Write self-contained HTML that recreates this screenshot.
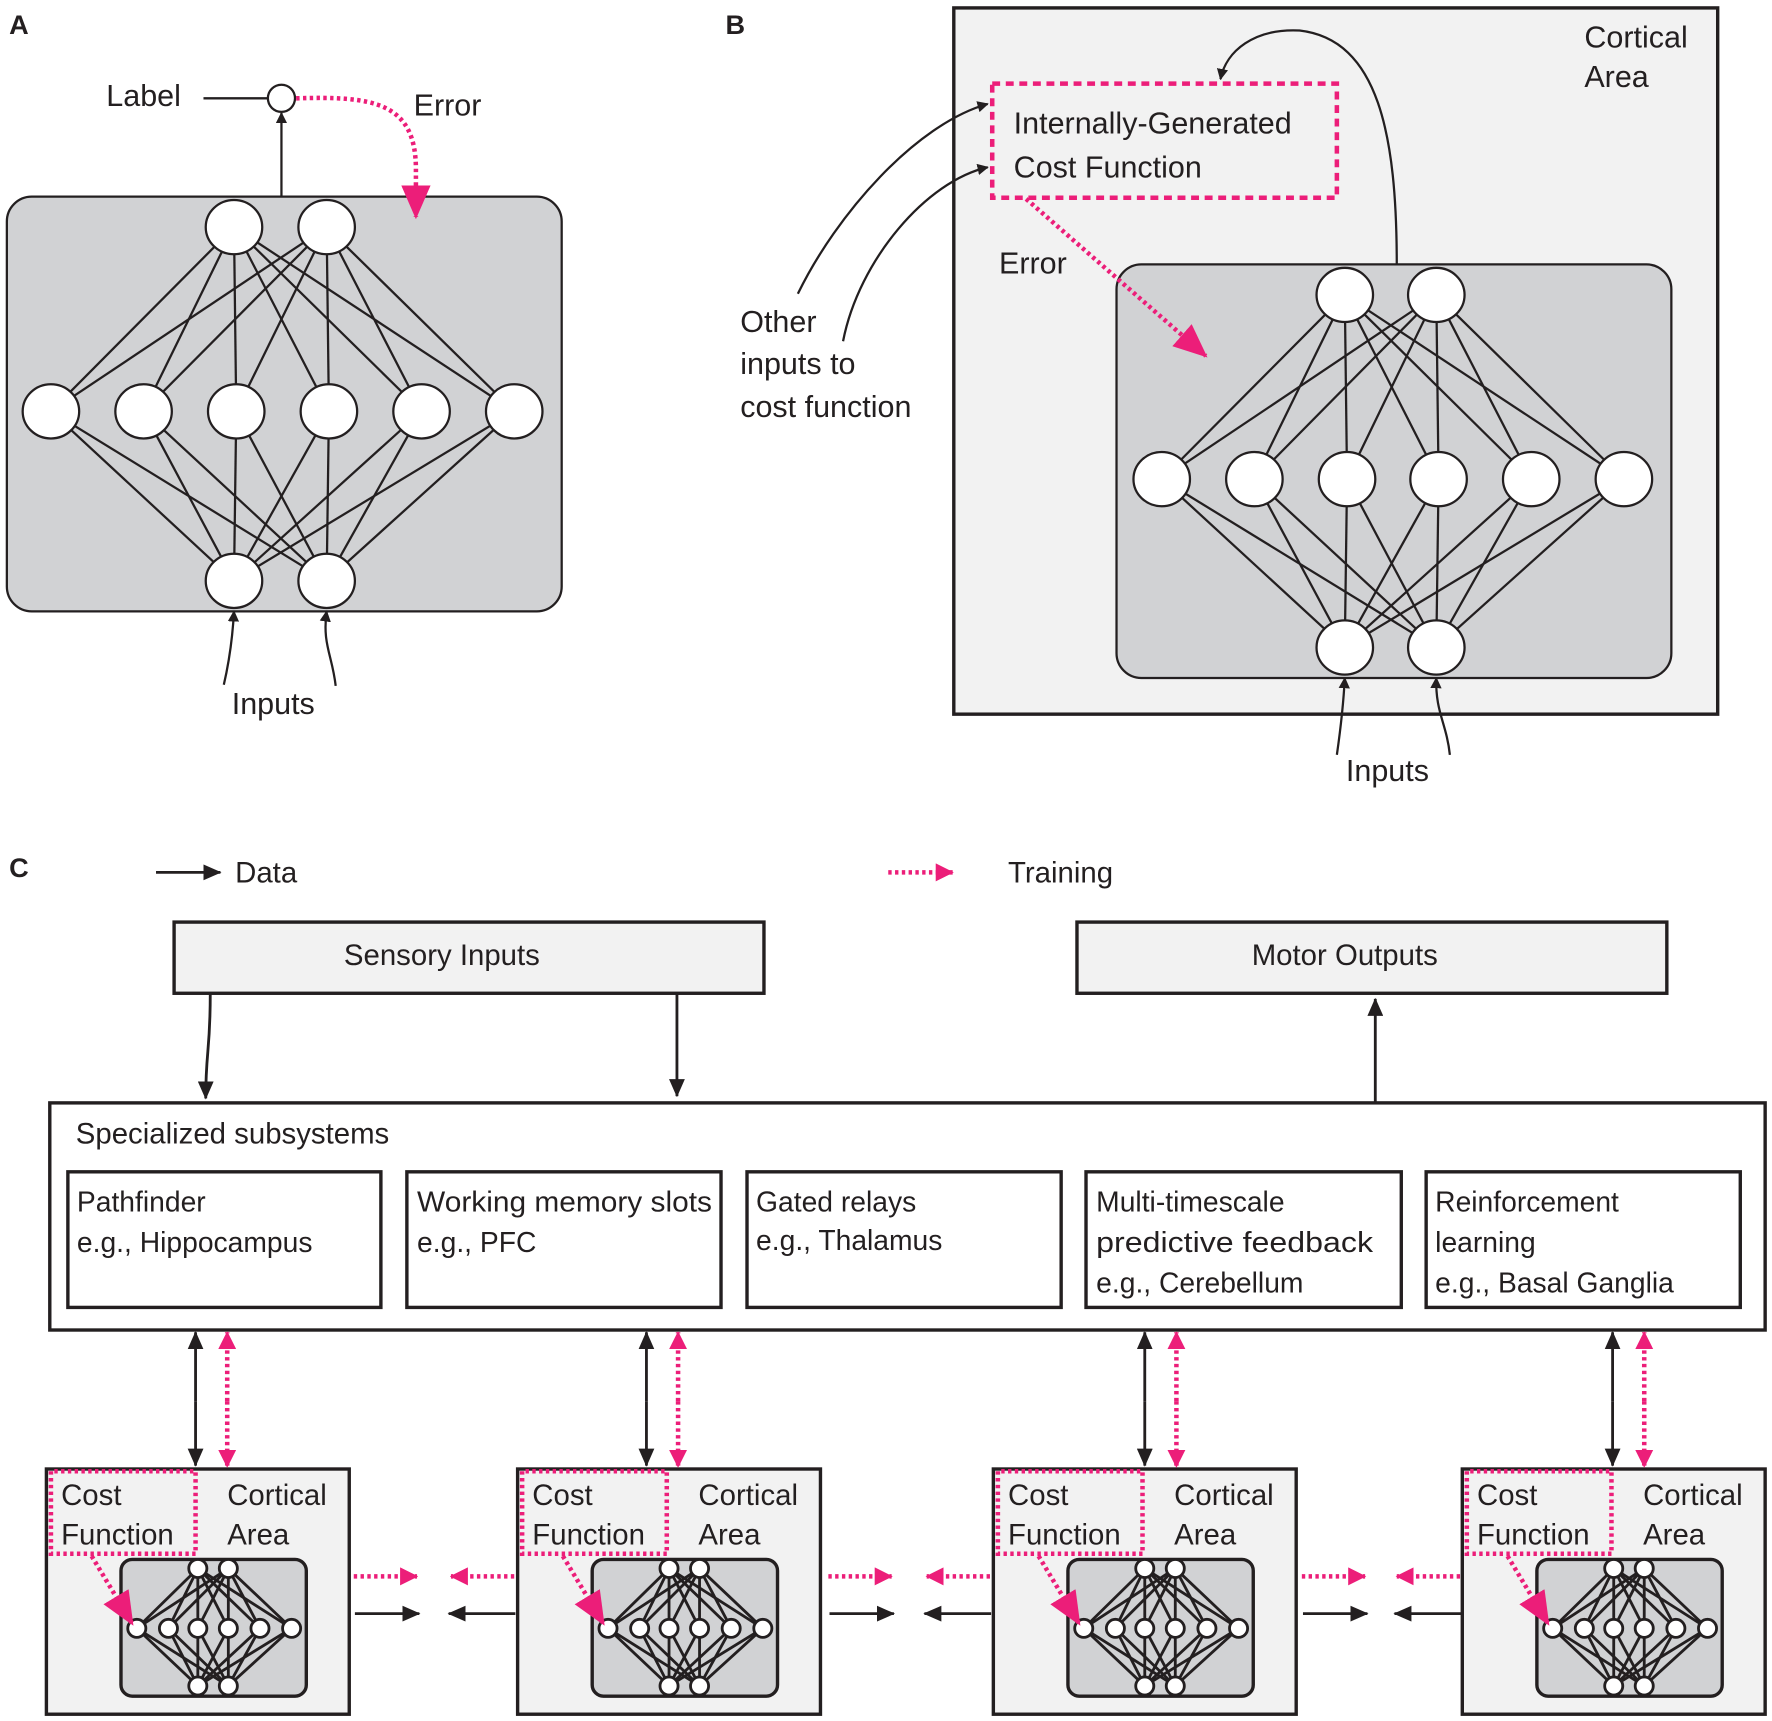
<!DOCTYPE html>
<html><head><meta charset="utf-8"><style>
html,body{margin:0;padding:0;background:#fff}
svg{display:block}
text{font-family:"Liberation Sans",sans-serif;fill:#231f20}
</style></head><body>
<svg id="s" width="1772" height="1721" viewBox="0 0 1568 1523" xmlns="http://www.w3.org/2000/svg">
<defs>
<marker id="ab" markerWidth="10" markerHeight="10" refX="9" refY="5" orient="auto" markerUnits="userSpaceOnUse"><path d="M0,0 L10,5 L0,10 Z" fill="#231f20"/></marker>
<marker id="abL" markerWidth="16" markerHeight="14" refX="15" refY="7" orient="auto" markerUnits="userSpaceOnUse"><path d="M0,0 L16,7 L0,14 Z" fill="#231f20"/></marker>
<marker id="ap" markerWidth="30" markerHeight="26" refX="28" refY="13" orient="auto" markerUnits="userSpaceOnUse"><path d="M0,0 L30,13 L0,26 Z" fill="#ec1e79"/></marker>
<marker id="apS" markerWidth="16" markerHeight="16" refX="15" refY="8" orient="auto" markerUnits="userSpaceOnUse"><path d="M0,0 L16,8 L0,16 Z" fill="#ec1e79"/></marker>
</defs>
<!-- Panel A -->
<text x="8" y="30" font-size="24" font-weight="bold">A</text>
<rect x="6" y="174" width="491" height="367" rx="22" fill="#d1d2d4" stroke="#231f20" stroke-width="2"/>
<g id="netA"></g>
<text x="94" y="94" font-size="27">Label</text>
<line x1="180" y1="87" x2="237" y2="87" stroke="#231f20" stroke-width="2"/>
<circle cx="249" cy="87" r="12" fill="#fff" stroke="#231f20" stroke-width="2"/>
<line x1="249" y1="174" x2="249" y2="100" stroke="#231f20" stroke-width="2" marker-end="url(#ab)"/>
<path d="M262,87 C330,85 368,90 368,150 L368,192" fill="none" stroke="#ec1e79" stroke-width="4" stroke-dasharray="3,3" marker-end="url(#ap)"/>
<text x="366" y="102" font-size="27">Error</text>
<path d="M198,606 C204,580 206,560 207,541" fill="none" stroke="#231f20" stroke-width="2" marker-end="url(#ab)"/>
<path d="M297,607 C294,580 285,570 289,541" fill="none" stroke="#231f20" stroke-width="2" marker-end="url(#ab)"/>
<text x="205" y="632" font-size="27">Inputs</text>
<!-- Panel B -->
<text x="642" y="30" font-size="24" font-weight="bold">B</text>
<rect x="844" y="7" width="676" height="625" fill="#f2f2f2" stroke="#231f20" stroke-width="3"/>
<text x="1402" y="42" font-size="27">Cortical</text>
<text x="1402" y="77" font-size="27">Area</text>
<rect x="878" y="74" width="305" height="101" fill="none" stroke="#ec1e79" stroke-width="4" stroke-dasharray="7,5"/>
<text x="897" y="118" font-size="27">Internally-Generated</text>
<text x="897" y="157" font-size="27">Cost Function</text>
<rect x="988" y="234" width="491" height="366" rx="22" fill="#d1d2d4" stroke="#231f20" stroke-width="2"/>
<g id="netB"></g>
<path d="M1236,234 C1236,120 1220,35 1150,27 C1110,25 1085,45 1080,70" fill="none" stroke="#231f20" stroke-width="2" marker-end="url(#ab)"/>
<text x="884" y="242" font-size="27">Error</text>
<line x1="908" y1="176" x2="1067" y2="315" stroke="#ec1e79" stroke-width="4" stroke-dasharray="3,3" marker-end="url(#ap)"/>
<path d="M706,260 C740,190 810,110 874,92" fill="none" stroke="#231f20" stroke-width="2" marker-end="url(#ab)"/>
<path d="M746,302 C760,230 820,160 874,148" fill="none" stroke="#231f20" stroke-width="2" marker-end="url(#ab)"/>
<text x="655" y="294" font-size="27">Other</text>
<text x="655" y="331" font-size="27">inputs to</text>
<text x="655" y="369" font-size="27">cost function</text>
<path d="M1183,668 C1187,640 1189,620 1190,600" fill="none" stroke="#231f20" stroke-width="2" marker-end="url(#ab)"/>
<path d="M1283,668 C1280,640 1270,630 1271,600" fill="none" stroke="#231f20" stroke-width="2" marker-end="url(#ab)"/>
<text x="1191" y="691" font-size="27">Inputs</text>
<!-- Panel C -->
<text x="8" y="776" font-size="24" font-weight="bold">C</text>
<line x1="138" y1="772" x2="195" y2="772" stroke="#231f20" stroke-width="2.5" marker-end="url(#abL)"/>
<text x="208" y="781" font-size="26">Data</text>
<line x1="786" y1="772" x2="843" y2="772" stroke="#ec1e79" stroke-width="4" stroke-dasharray="3,3" marker-end="url(#apS)"/>
<text x="892" y="781" font-size="26">Training</text>
<rect x="154" y="816" width="522" height="63" fill="#f2f2f2" stroke="#231f20" stroke-width="3"/>
<text x="391" y="854" font-size="26" text-anchor="middle">Sensory Inputs</text>
<rect x="953" y="816" width="522" height="63" fill="#f2f2f2" stroke="#231f20" stroke-width="3"/>
<text x="1190" y="854" font-size="26" text-anchor="middle">Motor Outputs</text>
<path d="M186,880 C186,930 182,930 182,972" fill="none" stroke="#231f20" stroke-width="2.5" marker-end="url(#abL)"/>
<line x1="599" y1="880" x2="599" y2="970" stroke="#231f20" stroke-width="2.5" marker-end="url(#abL)"/>
<line x1="1217" y1="975" x2="1217" y2="884" stroke="#231f20" stroke-width="2.5" marker-end="url(#abL)"/>
<rect x="44" y="976" width="1518" height="201" fill="#fff" stroke="#231f20" stroke-width="3"/>
<text x="67" y="1012" font-size="26">Specialized subsystems</text>
<rect x="60" y="1037" width="277" height="120" fill="#fff" stroke="#231f20" stroke-width="3"/>
<rect x="360" y="1037" width="278" height="120" fill="#fff" stroke="#231f20" stroke-width="3"/>
<rect x="661" y="1037" width="278" height="120" fill="#fff" stroke="#231f20" stroke-width="3"/>
<rect x="961" y="1037" width="279" height="120" fill="#fff" stroke="#231f20" stroke-width="3"/>
<rect x="1262" y="1037" width="278" height="120" fill="#fff" stroke="#231f20" stroke-width="3"/>
<g font-size="25">
<text x="68" y="1072">Pathfinder</text><text x="68" y="1108">e.g., Hippocampus</text>
<text x="369" y="1072" textLength="261" lengthAdjust="spacingAndGlyphs">Working memory slots</text><text x="369" y="1108">e.g., PFC</text>
<text x="669" y="1072">Gated relays</text><text x="669" y="1106">e.g., Thalamus</text>
<text x="970" y="1072">Multi-timescale</text><text x="970" y="1108" textLength="245" lengthAdjust="spacingAndGlyphs">predictive feedback</text><text x="970" y="1144">e.g., Cerebellum</text>
<text x="1270" y="1072">Reinforcement</text><text x="1270" y="1108">learning</text><text x="1270" y="1144">e.g., Basal Ganglia</text>
</g>
<g id="bot"></g>
</svg>
<script>
var NS="http://www.w3.org/2000/svg";
function el(p,t,a){var e=document.createElementNS(NS,t);for(var k in a)e.setAttribute(k,a[k]);p.appendChild(e);return e;}
function net(p,top,mid,bot,ty,my,by,rx,ry,sw){
 var i,j;
 for(i=0;i<top.length;i++)for(j=0;j<mid.length;j++)el(p,"line",{x1:top[i],y1:ty,x2:mid[j],y2:my,stroke:"#231f20","stroke-width":sw});
 for(i=0;i<bot.length;i++)for(j=0;j<mid.length;j++)el(p,"line",{x1:bot[i],y1:by,x2:mid[j],y2:my,stroke:"#231f20","stroke-width":sw});
 var all=[[top,ty],[mid,my],[bot,by]];
 all.forEach(function(L){L[0].forEach(function(x){el(p,"ellipse",{cx:x,cy:L[1],rx:rx,ry:ry,fill:"#fff",stroke:"#231f20","stroke-width":sw});});});
}
net(document.getElementById("netA"),[207,289],[45,127,209,291,373,455],[207,289],201,364,514,25,24,2);
net(document.getElementById("netB"),[1190,1271],[1028,1110,1192,1273,1355,1437],[1190,1271],261,424,573,25,24,2);
var bot=document.getElementById("bot");
var xs=[41,458,879,1294];
xs.forEach(function(x){
 el(bot,"rect",{x:x,y:1300,width:268,height:217,fill:"#f2f2f2",stroke:"#231f20","stroke-width":3});
 el(bot,"path",{d:"M"+(x+4)+",1302 L"+(x+4)+",1375 L"+(x+132)+",1375 L"+(x+132)+",1302 Z",fill:"none",stroke:"#ec1e79","stroke-width":4,"stroke-dasharray":"3,3"});
 var t;
 [["Cost",x+13,1332],["Function",x+13,1367],["Cortical",x+160,1332],["Area",x+160,1367]].forEach(function(a){t=el(bot,"text",{x:a[1],y:a[2],"font-size":26});t.textContent=a[0];});
 el(bot,"rect",{x:x+66,y:1380,width:164,height:121,rx:10,fill:"#d1d2d4",stroke:"#231f20","stroke-width":3});
 var g=el(bot,"g",{});
 net(g,[x+134,x+161],[x+80,x+108,x+134,x+161,x+189,x+217],[x+134,x+161],1388,1441,1492,8,8,2.5);
 el(bot,"line",{x1:x+40,y1:1377,x2:x+76,y2:1437,stroke:"#ec1e79","stroke-width":4,"stroke-dasharray":"3,3","marker-end":"url(#ap)"});
});
[173,572,1013,1427].forEach(function(x){
 el(bot,"line",{x1:x,y1:1240,x2:x,y2:1297,stroke:"#231f20","stroke-width":2.5,"marker-end":"url(#abL)"});
 el(bot,"line",{x1:x,y1:1240,x2:x,y2:1179,stroke:"#231f20","stroke-width":2.5,"marker-end":"url(#abL)"});
 el(bot,"line",{x1:x+28,y1:1240,x2:x+28,y2:1298,stroke:"#ec1e79","stroke-width":4,"stroke-dasharray":"3,3","marker-end":"url(#apS)"});
 el(bot,"line",{x1:x+28,y1:1240,x2:x+28,y2:1179,stroke:"#ec1e79","stroke-width":4,"stroke-dasharray":"3,3","marker-end":"url(#apS)"});
});
[[311,457],[731,878],[1150,1294]].forEach(function(p){
 var a=p[0],b=p[1];
 el(bot,"line",{x1:a+2,y1:1395,x2:a+58,y2:1395,stroke:"#ec1e79","stroke-width":4,"stroke-dasharray":"3,3","marker-end":"url(#apS)"});
 el(bot,"line",{x1:b-2,y1:1395,x2:b-58,y2:1395,stroke:"#ec1e79","stroke-width":4,"stroke-dasharray":"3,3","marker-end":"url(#apS)"});
 el(bot,"line",{x1:a+3,y1:1428,x2:a+60,y2:1428,stroke:"#231f20","stroke-width":2.5,"marker-end":"url(#abL)"});
 el(bot,"line",{x1:b-1,y1:1428,x2:b-60,y2:1428,stroke:"#231f20","stroke-width":2.5,"marker-end":"url(#abL)"});
});
</script>
</body></html>
